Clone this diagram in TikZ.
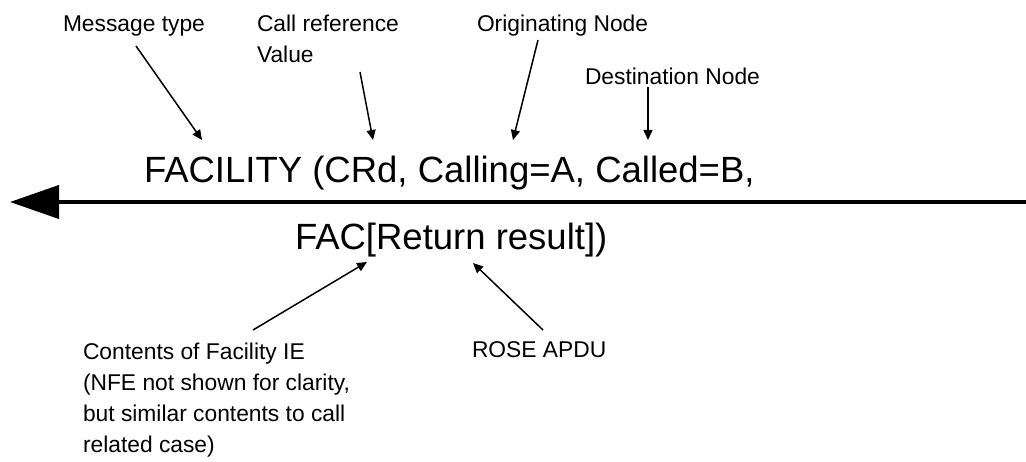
\documentclass[tikz,border=0pt]{standalone}
\usepackage{fontspec}
\setmainfont{Liberation Sans}
\usetikzlibrary{
  arrows.meta,
  positioning,
}
\tikzset{
  every node/.style={
    inner sep=0pt, outer sep=0pt,
    text=black,
  },
  msgtext/.style={
    anchor=base west,
    font=\fontsize{36.5}{40}\selectfont,
  },
  % multi-line notes: base anchor sits on the last line
  note/.style={
    anchor=base west, align=left,
    font=\fontsize{22.8}{31}\selectfont,
  },
  pointer/.style={
    -{Triangle[length=10pt,width=9pt]},
    line width=1.5pt,
  },
  msgline/.style={
    -{Triangle[length=49pt,width=33pt]},
    line width=4pt,
  },
}

\begin{document}
\begin{tikzpicture}[x=1pt, y=-1pt]

\useasboundingbox (0,0) rectangle (1026,462);

% ----- message on the line -----
\node[msgtext] (line1) at (144,183) {FACILITY (CRd, Calling=A, Called=B,};
\node[msgtext] (line2) at (295,250) {FAC[Return result])};

% ----- labels above -----
\node[note] (msgtype) at ( 63, 32) {Message type};
\node[note] (callref) at (257, 63) {Call reference\\Value};
\node[note] (orig)    at (477, 32) {Originating Node};
\node[note] (dest)    at (585, 85) {Destination Node};

% ----- labels below -----
\node[note] (facinfo) at ( 83,452) {Contents of Facility IE\\(NFE not shown for clarity,\\but similar contents to call\\related case)};
\node[note] (rose)    at (472,358) {ROSE APDU};

% ----- pointer ends -----
\coordinate (msgtypeT) at (136, 46);
\coordinate (msgtypeH) at (202,140);
\coordinate (callrefT) at (360, 72);
\coordinate (callrefH) at (373,140);
\coordinate (origT)    at (538, 40);
\coordinate (origH)    at (513,140);
\coordinate (destT)    at (648, 87);
\coordinate (destH)    at (648,140);
\coordinate (facinfoT) at (253,330);
\coordinate (facinfoH) at (367,262);
\coordinate (roseT)    at (543,330);
\coordinate (roseH)    at (473,263);

\coordinate (lineR) at (1026,202);
\coordinate (lineL) at (10,202);

% ============================================
% Connectors
% ============================================
\draw[msgline] (lineR) -- (lineL);

\draw[pointer] (msgtypeT) -- (msgtypeH);
\draw[pointer] (callrefT) -- (callrefH);
\draw[pointer] (origT)    -- (origH);
\draw[pointer] (destT)    -- (destH);
\draw[pointer] (facinfoT) -- (facinfoH);
\draw[pointer] (roseT)    -- (roseH);

\end{tikzpicture}
\end{document}
